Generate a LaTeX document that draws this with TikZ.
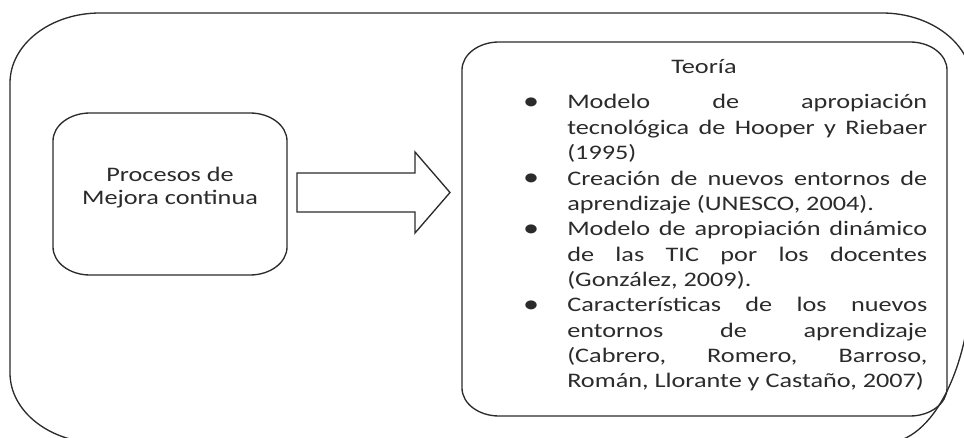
\documentclass[tikz,border=0pt]{standalone}
\usepackage{fontspec}
\setmainfont{Carlito}[FakeStretch=1.27]
\definecolor{ink}{HTML}{2B2B2B}
\newlength\px
\setlength\px{0.75pt}
% one justified line of the bullet list
\newcommand\jline[1]{\makebox[\linewidth][s]{#1}}
\newcommand\bul{\leavevmode\llap{{\fontsize{19pt}{19pt}\selectfont\raisebox{-0.4pt}{\textbullet}}\hspace{28\px}}}
\begin{document}
\begin{tikzpicture}[x=0.75pt,y=-0.75pt,
  outline/.style={draw=ink,line width=1pt,line join=round},
  label/.style={text=ink,inner sep=0pt}]
\useasboundingbox (0,0) rectangle (964,438);
\clip (0,0) rectangle (964,438);

% outer frame
\draw[outline] (10,373) -- (10,83)
  arc[start angle=180,end angle=270,x radius=90,y radius=70] -- (882,13)
  arc[start angle=270,end angle=360,x radius=90,y radius=70] -- (972,269)
  arc[start angle=0,end angle=90,x radius=87,y radius=174] -- (100,443)
  arc[start angle=90,end angle=180,x radius=90,y radius=70] -- cycle;

% left box
\draw[outline] (53,247) -- (53,141)
  arc[start angle=180,end angle=270,x radius=37,y radius=28] -- (250,113)
  arc[start angle=270,end angle=360,x radius=37,y radius=28] -- (287,247)
  arc[start angle=0,end angle=90,x radius=37,y radius=28] -- (90,275)
  arc[start angle=90,end angle=180,x radius=37,y radius=28] -- cycle;

% right box
\draw[outline] (462,388) -- (462,70)
  arc[start angle=180,end angle=270,x radius=37,y radius=28] -- (910,42)
  arc[start angle=270,end angle=360,x radius=37,y radius=28] -- (947,388)
  arc[start angle=0,end angle=90,x radius=37,y radius=28] -- (499,416)
  arc[start angle=90,end angle=180,x radius=37,y radius=28] -- cycle;

% block arrow between the boxes
\draw[outline,line join=miter] (297,173) -- (415,173) -- (415,152) -- (450,192.5)
  -- (415,233) -- (415,212) -- (297,212) -- cycle;

% texts
\node[label,anchor=base] (proc) at (170,182)
  {\parbox[t]{220\px}{\centering\fontsize{15.5pt}{16.7pt}\selectfont
   Procesos de\\Mejora continua}};

\node[label,anchor=base,font=\fontsize{15.5pt}{19pt}\selectfont] (teoria) at (704,74) {Teoría};

\node[label,anchor=base west] (lista) at (567,109)
  {\parbox[t]{360\px}{\fontsize{15.5pt}{19.02pt}\selectfont
   \bul\jline{Modelo de apropiación}\\
   \jline{tecnológica de Hooper y Riebaer}\\
   (1995)\\
   \bul\jline{Creación de nuevos entornos de}\\
   aprendizaje (UNESCO, 2004).\\
   \bul\jline{Modelo de apropiación dinámico}\\
   \jline{de las TIC por los docentes}\\
   (González, 2009).\\
   \bul\jline{Características de los nuevos}\\
   \jline{entornos de aprendizaje}\\
   \jline{(Cabrero, Romero, Barroso,}\\
   Román, Llorante y Castaño, 2007)}};
\end{tikzpicture}
\end{document}
